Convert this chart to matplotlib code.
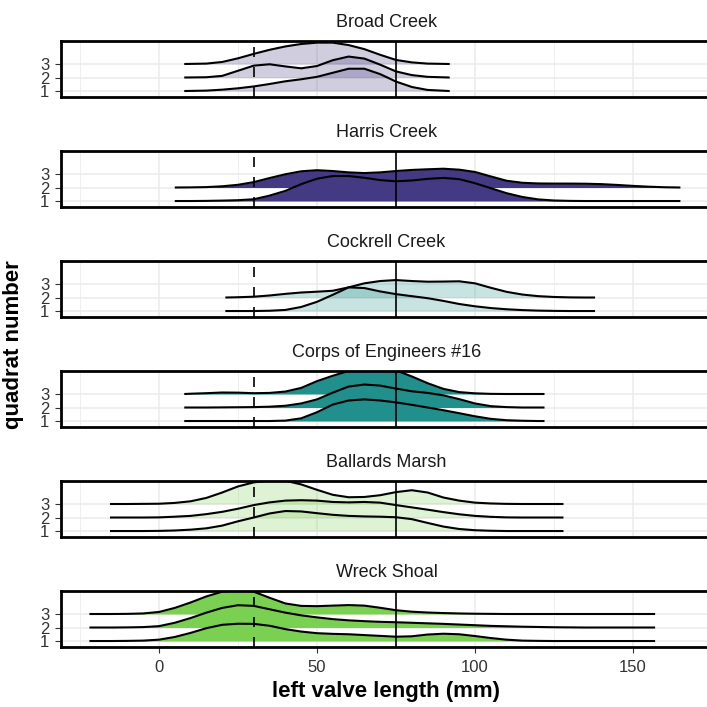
import numpy as np
import matplotlib
matplotlib.use('Agg')
import matplotlib.pyplot as plt

plt.rcParams['font.family'] = ['Liberation Sans', 'DejaVu Sans']

# sitios (de arriba hacia abajo)
sitios = ['Broad Creek', 'Harris Creek', 'Cockrell Creek',
          'Corps of Engineers #16', 'Ballards Marsh', 'Wreck Shoal']

# alturas de las crestas (unidades de cuadrante)
broad_x = [8, 15, 20, 25, 30, 35, 40, 45, 50, 55, 60, 65, 70, 75, 80, 85, 92]
broad_q1 = [0, 0.03, 0.1, 0.2, 0.34, 0.52, 0.72, 0.87, 1.05, 1.35, 1.65, 1.65, 1.25, 0.7, 0.3, 0.08, 0]
broad_q2 = [0, 0.02, 0.12, 0.5, 0.88, 0.98, 0.82, 0.68, 0.85, 1.28, 1.55, 1.4, 0.95, 0.45, 0.18, 0.05, 0]
broad_q3 = [0, 0.03, 0.15, 0.42, 0.75, 1.05, 1.3, 1.48, 1.58, 1.58, 1.4, 1.1, 0.68, 0.3, 0.12, 0.03, 0]

harris_x = [5, 10, 15, 20, 25, 30, 35, 40, 45, 50, 55, 60, 65, 70, 75, 80, 85, 90, 95, 100,
            105, 110, 115, 120, 125, 130, 135, 140, 145, 150, 155, 160, 165]
harris_q1 = [0, 0, 0.01, 0.03, 0.06, 0.13, 0.4, 0.75, 1.25, 1.65, 1.85, 1.85, 1.72, 1.55, 1.46, 1.52,
             1.64, 1.71, 1.62, 1.32, 0.95, 0.58, 0.3, 0.12, 0.04, 0.01, 0, 0, 0, 0, 0, 0, 0]
harris_q2 = [0, 0.01, 0.03, 0.09, 0.2, 0.4, 0.7, 0.98, 1.2, 1.28, 1.22, 1.12, 1.07, 1.12, 1.22, 1.3,
             1.35, 1.39, 1.32, 1.15, 0.82, 0.5, 0.35, 0.3, 0.29, 0.29, 0.28, 0.25, 0.19, 0.12, 0.06, 0.02, 0]

cockrell_x = [21, 25, 30, 35, 40, 45, 50, 55, 60, 65, 70, 75, 80, 85, 90, 95, 100,
              105, 110, 115, 120, 125, 130, 135, 138]
cockrell_q1 = [0, 0, 0, 0.02, 0.08, 0.3, 0.68, 1.2, 1.75, 1.7, 1.45, 1.25, 1.1, 0.95, 0.75, 0.52, 0.35,
               0.22, 0.13, 0.07, 0.03, 0.01, 0, 0, 0]
cockrell_q2 = [0, 0.02, 0.06, 0.15, 0.27, 0.37, 0.43, 0.5, 0.75, 1.05, 1.22, 1.29, 1.22, 1.17, 1.18, 1.2, 1.05,
               0.72, 0.42, 0.22, 0.1, 0.04, 0.01, 0, 0]

corps_x = [8, 10, 15, 20, 25, 30, 35, 40, 45, 50, 55, 60, 65, 70, 75, 80, 85, 90, 95, 100,
           105, 110, 115, 120, 122]
corps_q1 = [0, 0, 0, 0, 0, 0, 0, 0.03, 0.2, 0.65, 1.22, 1.52, 1.6, 1.52, 1.38, 1.2, 1.0, 0.8, 0.58, 0.35,
            0.16, 0.06, 0.02, 0, 0]
corps_q2 = [0, 0, 0, 0.01, 0.02, 0.03, 0.06, 0.13, 0.3, 0.6, 1.1, 1.55, 1.7, 1.62, 1.4, 1.2, 1.08, 0.9, 0.62, 0.3,
            0.1, 0.03, 0, 0, 0]
corps_q3 = [0, 0.02, 0.06, 0.11, 0.1, 0.06, 0.08, 0.18, 0.45, 0.95, 1.35, 1.7, 1.9, 1.9, 1.75, 1.3, 0.8, 0.38, 0.14, 0.05,
            0.01, 0, 0, 0, 0]

ballards_x = [-15.5, -10, -5, 0, 5, 10, 15, 20, 25, 30, 35, 40, 45, 50, 55, 60, 65, 70, 75, 80,
              85, 90, 95, 100, 105, 110, 115, 120, 125, 128]
ballards_q1 = [0, 0, 0, 0.01, 0.04, 0.1, 0.2, 0.4, 0.72, 1.0, 1.3, 1.48, 1.45, 1.32, 1.2, 1.12, 1.08, 1.06, 1.02, 0.88,
               0.6, 0.33, 0.15, 0.06, 0.02, 0, 0, 0, 0, 0]
ballards_q2 = [0, 0, 0, 0.01, 0.06, 0.12, 0.25, 0.42, 0.65, 0.92, 1.12, 1.25, 1.28, 1.25, 1.15, 1.12, 1.15, 1.1, 0.92, 0.75,
               0.58, 0.4, 0.24, 0.12, 0.05, 0.01, 0, 0, 0, 0]
ballards_q3 = [0, 0, 0.01, 0.02, 0.08, 0.2, 0.45, 0.85, 1.3, 1.6, 1.75, 1.72, 1.45, 1.05, 0.68, 0.5, 0.52, 0.65, 0.88, 1.02,
               0.85, 0.48, 0.25, 0.1, 0.04, 0.01, 0, 0, 0, 0]

wreck_x = [-22, -20, -15, -10, -5, 0, 5, 10, 15, 20, 25, 30, 35, 40, 45, 50, 55, 60, 65, 70,
           75, 80, 85, 90, 95, 100, 105, 110, 115, 120, 125, 130, 135, 140, 145, 150, 155, 157]
wreck_q1 = [0, 0, 0, 0.01, 0.03, 0.1, 0.3, 0.6, 0.95, 1.2, 1.28, 1.27, 1.13, 0.88, 0.7, 0.58, 0.53, 0.5, 0.44, 0.38,
            0.32, 0.35, 0.48, 0.54, 0.5, 0.37, 0.22, 0.1, 0.03, 0.01, 0, 0, 0, 0, 0, 0, 0, 0]
wreck_q2 = [0, 0, 0, 0.01, 0.03, 0.1, 0.35, 0.7, 1.1, 1.45, 1.65, 1.6, 1.35, 1.1, 0.9, 0.75, 0.62, 0.53, 0.47, 0.42,
            0.39, 0.35, 0.31, 0.27, 0.22, 0.17, 0.12, 0.09, 0.06, 0.04, 0.02, 0.01, 0, 0, 0, 0, 0, 0]
wreck_q3 = [0, 0, 0, 0.01, 0.04, 0.15, 0.45, 0.85, 1.3, 1.65, 1.8, 1.65, 1.2, 0.78, 0.6, 0.58, 0.62, 0.66, 0.62, 0.46,
            0.28, 0.17, 0.11, 0.07, 0.04, 0.02, 0.01, 0, 0, 0, 0, 0, 0, 0, 0, 0, 0, 0]

equis = [broad_x, harris_x, cockrell_x, corps_x, ballards_x, wreck_x]
crestas = [{1: broad_q1, 2: broad_q2, 3: broad_q3},
           {1: harris_q1, 2: harris_q2},
           {1: cockrell_q1, 2: cockrell_q2},
           {1: corps_q1, 2: corps_q2, 3: corps_q3},
           {1: ballards_q1, 2: ballards_q2, 3: ballards_q3},
           {1: wreck_q1, 2: wreck_q2, 3: wreck_q3}]
colores = ['#443983', '#443983', '#21908c', '#21908c', '#7ad151', '#7ad151']
alfas = [0.25, 1.0, 0.25, 1.0, 0.25, 1.0]

corte_chico = 30
corte_grande = 75

#%%
W = 707.
fig = plt.figure(figsize=(7.07, 7.07), dpi=100)

izq, der = 61., 712.
for k, sitio in enumerate(sitios):
    arriba = 41.3 + 110 * k
    abajo = 96.7 + 110 * k
    ax = fig.add_axes([izq / W, 1 - abajo / W, (der - izq) / W, (abajo - arriba) / W])
    ax.set_xlim(-31, 175)
    ax.set_ylim(0.58, 4.68)

    x = np.array(equis[k])
    z = 2
    for q in sorted(crestas[k].keys(), reverse=True):
        h = np.array(crestas[k][q])
        ax.fill_between(x, q, q + h, color=colores[k], alpha=alfas[k], lw=0, zorder=z)
        ax.plot(x, q + h, color='k', lw=1.5, zorder=z + 1, solid_capstyle='butt',
                solid_joinstyle='round')
        z += 2

    ax.axvline(corte_chico, color='k', lw=1.2, ls=(0, (6, 6)), zorder=20)
    ax.axvline(corte_grande, color='k', lw=1.2, zorder=20)

    ax.set_xticks([0, 50, 100, 150])
    ax.set_xticks([-25, 25, 75, 125, 175], minor=True)
    ax.set_yticks([1, 2, 3])
    ax.set_yticklabels(['1', '2', '3'])
    ax.grid(which='major', color='#ebebeb', lw=1.1)
    ax.grid(which='minor', axis='x', color='#ebebeb', lw=0.55)
    ax.set_axisbelow(True)
    for s in ax.spines.values():
        s.set_linewidth(2.0)
        s.set_color('k')
        s.set_zorder(30)
    ax.tick_params(axis='y', length=4.3, width=0.8, color='#333333', labelsize=12,
                   labelcolor='#333333', pad=4)
    ax.tick_params(axis='x', which='minor', length=0)
    if k < len(sitios) - 1:
        ax.tick_params(axis='x', length=0, labelbottom=False)
    else:
        ax.tick_params(axis='x', length=4.3, width=0.8, color='#333333', labelsize=12,
                       labelcolor='#333333', pad=5)
    ax.set_title(sitio, fontsize=13, color='#1a1a1a', pad=10)

fig.text(14 / W, 1 - 345 / W, 'quadrat number', rotation=90, fontsize=16,
         fontweight='bold', ha='center', va='center')
fig.text(386 / W, 1 - 692 / W, 'left valve length (mm)', fontsize=16,
         fontweight='bold', ha='center', va='center')

fig.savefig('out.png', dpi=100)
